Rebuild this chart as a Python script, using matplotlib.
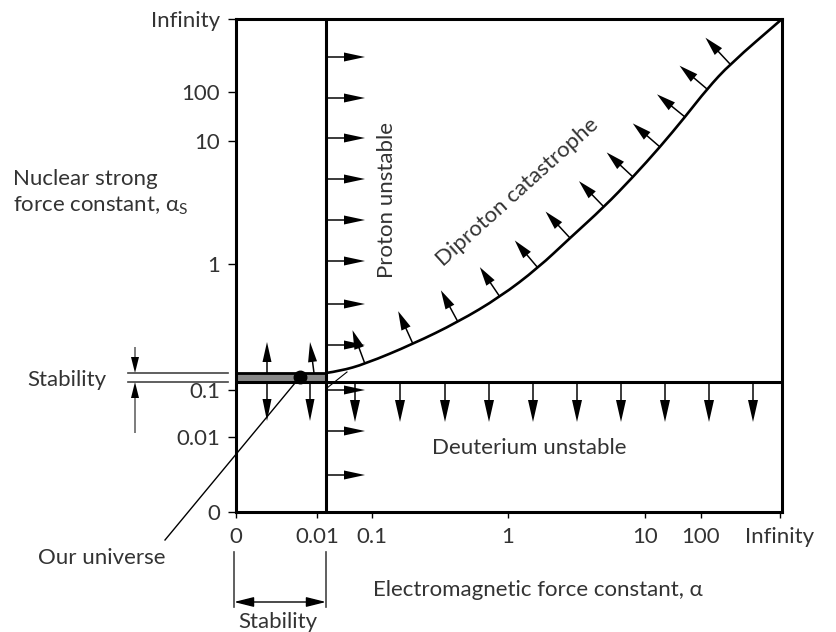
import numpy as np
import matplotlib.pyplot as plt
from matplotlib.path import Path
from matplotlib.patches import PathPatch

plt.rcParams['font.family'] = ['Lato', 'DejaVu Sans']
plt.rcParams['mathtext.fontset'] = 'custom'
plt.rcParams['mathtext.rm'] = 'Lato'
plt.rcParams['mathtext.it'] = 'Lato:italic'

TXT = '#333333'
FS = 16

# schematic positions (1 unit = 1 px of the frame, origin at lower-left corner)
x_ticks = [0, 81, 136, 272, 409, 465, 544]
x_labels = ['0', '0.01', '0.1', '1', '10', '100', 'Infinity']
y_ticks = [0, 75, 122, 248, 371, 420, 493]
y_labels = ['0', '0.01', '0.1', '1', '10', '100', 'Infinity']

proton_x = 90          # proton stability limit (alpha ~ 0.01)
deut_y = 130           # deuterium limit
band_top = 139         # upper stability line

# diproton catastrophe boundary
curve_x = [90, 104, 129, 177, 222, 264, 302, 334, 368, 397, 424, 449, 471, 494, 546]
curve_y = [139, 141, 148, 168, 190, 215, 244, 274, 305, 335, 365, 395, 423, 448, 493]

proton_arrow_y = [455, 414, 374, 333, 292, 251, 208, 167, 122, 81, 37]
deut_arrow_x = [119, 164, 209, 253, 297, 341, 385, 429, 473, 517]
stab_arrow_x = [31, 74]
stab_arrow_tilt = [0, -4]

universe = (64, 135)

fig = plt.figure(figsize=(8.36, 6.32), dpi=100)
ax = fig.add_axes([236 / 836, 120 / 632, 546 / 836, 493 / 632])
ax.set_xlim(0, 546)
ax.set_ylim(0, 493)

for s in ax.spines.values():
    s.set_linewidth(2.2)
    s.set_color('black')

ax.set_xticks(x_ticks, x_labels)
ax.set_yticks(y_ticks, y_labels)
ax.tick_params(axis='x', length=4.5, width=1, pad=6, labelsize=FS, labelcolor=TXT)
ax.tick_params(axis='y', length=5.5, width=1, pad=6, labelsize=FS, labelcolor=TXT)


def arrow(x, y, dx, dy, hw=9, hl=20, w=1.5):
    ax.arrow(x, y, dx, dy, width=w, head_width=hw, head_length=hl,
             length_includes_head=True, fc='black', ec='black', lw=0, clip_on=False)


# main boundaries
ax.axvline(proton_x, color='black', lw=2.2)
ax.axhline(deut_y, color='black', lw=2.2)
ax.fill_between([0, proton_x], deut_y, band_top, color='#888888', lw=0)
ax.plot([0, proton_x], [band_top, band_top], color='black', lw=2)

# smooth boundary drawn with quadratic bezier segments through the read points
pts = np.column_stack([curve_x, curve_y]).astype(float)
verts = [pts[0]]
codes = [Path.MOVETO]
for i in range(1, len(pts) - 1):
    verts += [pts[i], (pts[i] + pts[i + 1]) / 2]
    codes += [Path.CURVE3, Path.CURVE3]
verts.append(pts[-1])
codes.append(Path.LINETO)
ax.add_patch(PathPatch(Path(verts, codes), fc='none', ec='black', lw=1.9))

# arrows
for y in proton_arrow_y:
    arrow(proton_x, y, 39, 0, hw=9, hl=21)
for x in deut_arrow_x:
    arrow(x, deut_y, 0, -40, hw=10, hl=22)
for x, t in zip(stab_arrow_x, stab_arrow_tilt):
    arrow(x - t, band_top, t, 31, hw=9, hl=20)
    arrow(x, deut_y, 0, -39, hw=9, hl=22)

cx, cy = pts[:, 0], pts[:, 1]
gx = np.gradient(cx)
gy = np.gradient(cy)
for i in range(2, len(cx) - 1):
    n = np.array([-gy[i], gx[i]])
    n = n / np.hypot(*n) * 36
    arrow(cx[i], cy[i], n[0], n[1], hw=10, hl=19)

# our universe
ax.plot([-71, universe[0]], [-28, universe[1]], color='black', lw=1, clip_on=False)
ax.plot([91, 111], [124, 140], color='black', lw=0.8)
ax.plot(*universe, 'o', color='black', ms=9, clip_on=False)
ax.text(-198, -46, 'Our universe', fontsize=FS, color=TXT, va='center', ha='left')

# left stability marker
ax.plot([-108, -8], [band_top, band_top], color='#444444', lw=1.2, clip_on=False)
ax.plot([-108, -8], [deut_y, deut_y], color='#444444', lw=1.2, clip_on=False)
arrow(-101, 165, 0, band_top - 165, hw=8, hl=16, w=1)
arrow(-101, 79, 0, deut_y - 79, hw=8, hl=16, w=1)
ax.text(-209, 132, 'Stability', fontsize=FS, color=TXT, va='center', ha='left')

# bottom stability marker
ax.plot([-2, -2], [-40, -95], color='#444444', lw=1.2, clip_on=False)
ax.plot([proton_x, proton_x], [-40, -95], color='#444444', lw=1.2, clip_on=False)
ax.annotate('', xy=(-2, -90), xytext=(proton_x, -90), annotation_clip=False,
            arrowprops=dict(arrowstyle='<|-|>,head_length=1.2,head_width=0.3',
                            color='black', lw=1, shrinkA=0, shrinkB=0))
ax.text(42, -110, 'Stability', fontsize=FS, color=TXT, va='center', ha='center')

# region labels
ax.text(151, 312, 'Proton unstable', fontsize=FS, color=TXT, rotation=90,
        va='center', ha='center')
ax.text(281, 320, 'Diproton catastrophe', fontsize=FS, color=TXT, rotation=42,
        va='center', ha='center', rotation_mode='anchor')
ax.text(293, 64, 'Deuterium unstable', fontsize=FS, color=TXT, va='center', ha='center')

# axis titles
ax.text(137, -78, 'Electromagnetic force constant, α', fontsize=FS, color=TXT,
        va='center', ha='left')
ax.text(-223, 319, 'Nuclear strong\nforce constant, α$_\\mathregular{S}$',
        fontsize=FS, color=TXT, va='center', ha='left', linespacing=1.3)

fig.savefig('out.png', dpi=100)
